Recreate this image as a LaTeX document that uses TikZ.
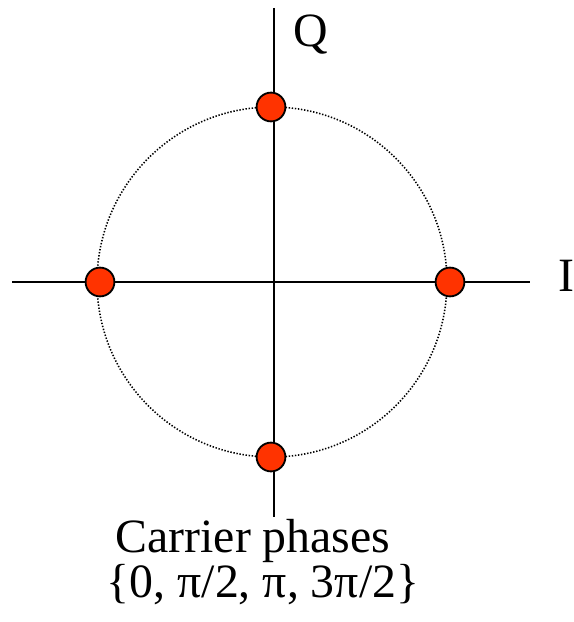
\documentclass[tikz,border=0pt]{standalone}
\usepackage{fontspec}
\setmainfont{Liberation Serif}
\usetikzlibrary{positioning}
\definecolor{PointRed}{RGB}{255,51,0}

\tikzset{
	phasept/.style={circle, draw=black, line width=1.3pt, fill=PointRed, minimum size=0.72cm, inner sep=0pt},
	axislabel/.style={font=\fontsize{34}{38}\selectfont, inner sep=0pt, anchor=base},
	caption/.style={font=\fontsize{34}{38}\selectfont, inner sep=0pt, anchor=base}
}

\begin{document}
\begin{tikzpicture}[x=0.025cm, y=-0.025cm]
		\useasboundingbox (0,0) rectangle (573,622);
		
		% 坐标轴 I 和 Q
		\coordinate (west) at (12,282);
		\coordinate (east) at (530,282);
		\coordinate (north) at (274,8);
		\coordinate (south) at (274,517);
		\draw[line width=1.4pt] (west) -- (east);
		\draw[line width=1.4pt] (north) -- (south);
		
		% 单位圆 (点线)
		\draw[line width=1.1pt, dash pattern=on 1pt off 1.2pt] (272,282) circle (175);
		
		% 四个载波相位点
		\node[phasept] (p0) at (450,282) {};
		\node[phasept] (p1) at (271,107) {};
		\node[phasept] (p2) at (100,282) {};
		\node[phasept] (p3) at (271,457) {};
		
		\node[axislabel] (qlab) at (311,47) {Q};
		\node[axislabel] (ilab) at (566,291) {I};
		
		\node[caption] (cap1) at (253,552) {Carrier phases};
		\node[caption] (cap2) at (263,597) {\{0, π/2, π, 3π/2\}};
	\end{tikzpicture}
\end{document}
